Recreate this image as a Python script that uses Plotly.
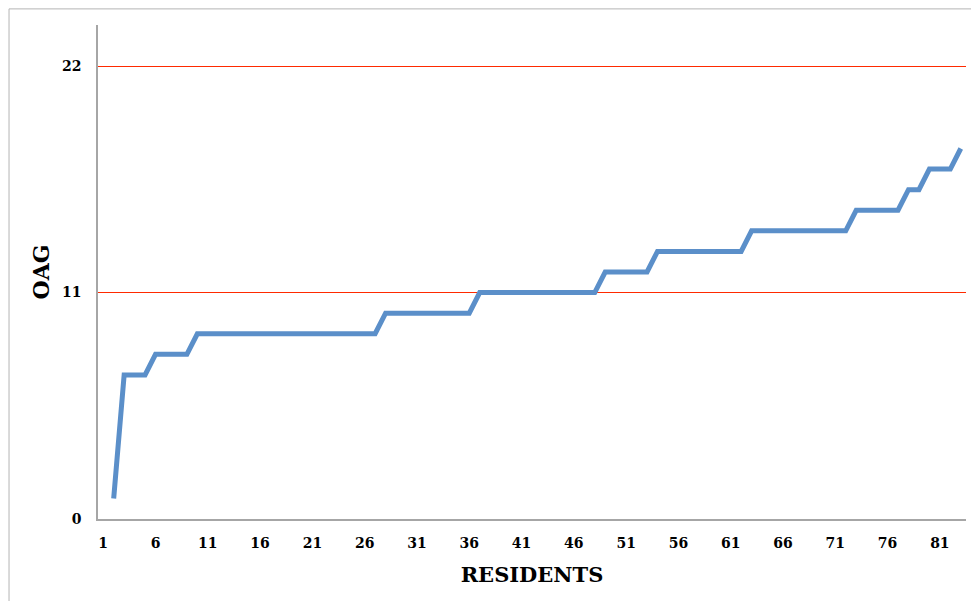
import plotly.graph_objects as go

# Data
residents = list(range(1, 84))
oag = [None, 1,
       7, 7, 7,
       8, 8, 8, 8,
       9, 9, 9, 9, 9, 9, 9, 9, 9, 9, 9, 9, 9, 9, 9, 9, 9, 9,
       10, 10, 10, 10, 10, 10, 10, 10, 10,
       11, 11, 11, 11, 11, 11, 11, 11, 11, 11, 11, 11,
       12, 12, 12, 12, 12,
       13, 13, 13, 13, 13, 13, 13, 13, 13,
       14, 14, 14, 14, 14, 14, 14, 14, 14, 14,
       15, 15, 15, 15, 15,
       16, 16,
       17, 17, 17,
       18]
x_ticks = [1, 6, 11, 16, 21, 26, 31, 36, 41, 46, 51, 56, 61, 66, 71, 76, 81]
y_ticks = [0, 11, 22]

FONT = "DejaVu Serif"

fig = go.Figure()
fig.add_trace(go.Scatter(
    x=residents, y=oag, mode="lines",
    line=dict(color="#5b8fc9", width=5),
    connectgaps=False, showlegend=False, hoverinfo="x+y"))

# page body has an 8px margin, so the figure is sized/placed to compensate
fig.update_layout(
    width=971, height=593,
    margin=dict(l=90, r=13, t=17, b=82),
    paper_bgcolor="white", plot_bgcolor="white",
    font=dict(family=FONT, color="black"),
    xaxis=dict(
        range=[0.5, 83.5], tickmode="array", tickvals=x_ticks,
        showgrid=False, zeroline=False, automargin=False,
        showline=True, linecolor="#a6a6a6", linewidth=1.5,
        ticks="", ticklabelstandoff=10,
        tickfont=dict(family=FONT, size=14, color="black", weight="bold"),
        title=dict(text="<b>RESIDENTS</b>", standoff=18,
                   font=dict(family=FONT, size=21, color="black")),
    ),
    yaxis=dict(
        range=[0, 24], tickmode="array", tickvals=y_ticks,
        showgrid=True, gridcolor="#ff2a00", gridwidth=1.2,
        zeroline=False, automargin=False,
        showline=True, linecolor="#a6a6a6", linewidth=1.5,
        ticks="", ticklabelstandoff=12,
        tickfont=dict(family=FONT, size=14, color="black", weight="bold"),
        title=dict(text="<b>OAG</b>", standoff=6,
                   font=dict(family=FONT, size=22, color="black")),
    ),
    shapes=[dict(type="rect", xref="paper", yref="paper",
                 x0=-0.1025, x1=1.05, y0=-0.3, y1=1.0326,
                 line=dict(color="#b4b4b4", width=1), layer="below")],
)

fig.write_html("out.html")
